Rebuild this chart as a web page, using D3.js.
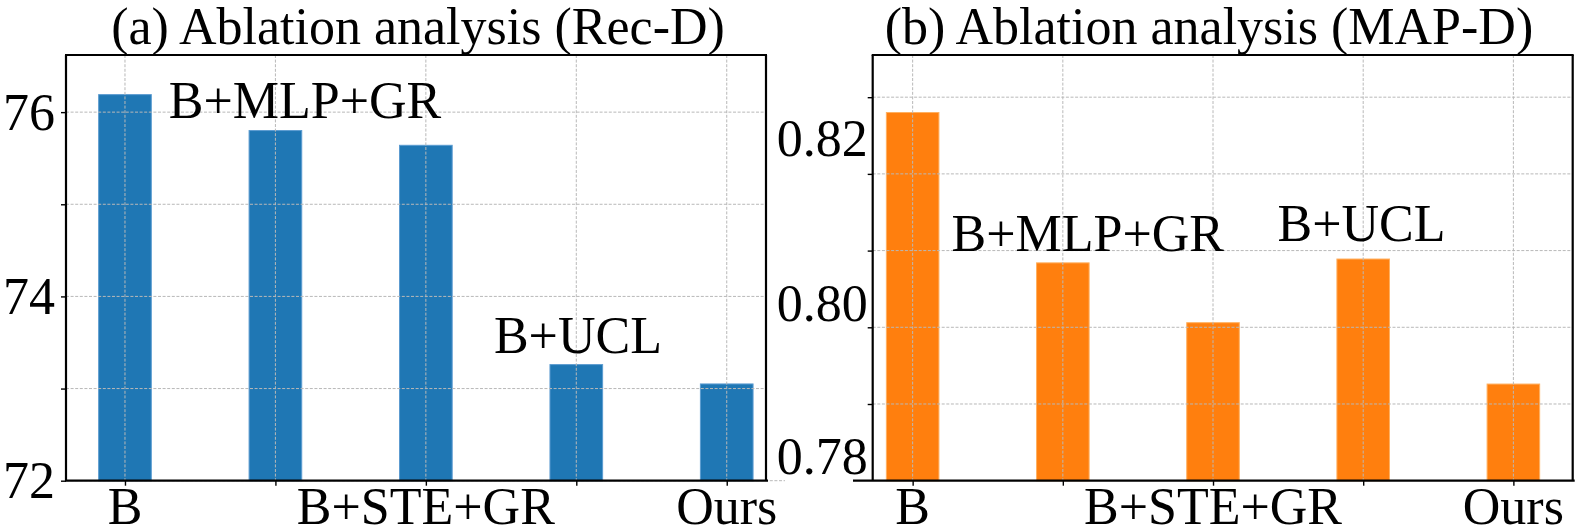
<!DOCTYPE html>
<html><head><meta charset="utf-8">
<script src="https://cdn.jsdelivr.net/npm/d3@7"></script>
<style>html,body{margin:0;padding:0;background:#fff;}svg{display:block;font-family:"Liberation Serif","Times New Roman",serif;}</style>
</head><body><svg id="c" width="1578" height="526"></svg>
<script>
// ---- data ----
const categories = ["B", "B+MLP+GR", "B+STE+GR", "B+UCL", "Ours"];
const xTickLabels = ["B", "", "B+STE+GR", "", "Ours"];
const recD = [76.19, 75.80, 75.64, 73.26, 73.05];
const mapD = [0.8180, 0.7984, 0.7906, 0.7989, 0.7826];
const recTicks = [72, 73, 74, 75, 76];
const recTickLabels = ["72", "", "74", "", "76"];
const mapTicks = [0.78, 0.79, 0.80, 0.81, 0.82];
const mapTickLabels = ["0.78", "", "0.80", "", "0.82"];
const titles = ["(a) Ablation analysis (Rec-D)", "(b) Ablation analysis (MAP-D)"];
const recNotes = [{text: "B+MLP+GR", x: 1.197, y: 75.94}, {text: "B+UCL", x: 3.011, y: 73.383}];
const mapNotes = [{text: "B+MLP+GR", x: 1.166, y: 0.7999}, {text: "B+UCL", x: 2.989, y: 0.8012}];

// ---- layout ----
const svg = d3.select("#c");
svg.append("rect").attr("width", 1578).attr("height", 526).attr("fill", "#fff");
const FS = 52;

function panel(o) {
  const g = svg.append("g");
  const x = d3.scaleLinear().domain(o.xDomain).range([o.left, o.right]);
  const y = d3.scaleLinear().domain(o.yDomain).range([o.bottom, o.top]);
  const bw = x(0.35) - x(0);
  // bars
  g.selectAll("rect.bar").data(o.values).join("rect")
    .attr("x", (d, i) => x(i) - bw / 2).attr("width", bw)
    .attr("y", d => y(d)).attr("height", d => y(o.yDomain[0]) - y(d))
    .attr("fill", o.color).attr("stroke", o.edge).attr("stroke-width", 1);
  // grid
  const grid = g.append("g").attr("stroke", "#b8b8b8").attr("stroke-width", 1).attr("stroke-dasharray", "3,1.6");
  grid.selectAll("line.h").data(o.ticks).join("line")
    .attr("x1", o.left).attr("x2", (d, i) => (o.extendFirstGrid && i === 0) ? o.right + 19 : o.right)
    .attr("y1", d => y(d)).attr("y2", d => y(d));
  grid.selectAll("line.v").data(categories).join("line")
    .attr("x1", (d, i) => x(i)).attr("x2", (d, i) => x(i))
    .attr("y1", o.top).attr("y2", o.bottom);
  // y axis ticks (custom: labels placed as in reference)
  const ya = d3.axisLeft(y).tickValues(o.ticks).tickSize(5).tickFormat("");
  const yg = g.append("g").attr("transform", `translate(${o.left},0)`).call(ya);
  yg.select(".domain").remove();
  yg.selectAll("line").attr("stroke", "#000").attr("stroke-width", 1.4);
  g.selectAll("text.yl").data(o.ticks).join("text")
    .attr("x", o.left - o.labelGap).attr("y", (d, i) => y(d) + o.labelShift[i])
    .attr("dy", "0.34em").attr("text-anchor", "end").attr("font-size", FS)
    .text((d, i) => o.tickLabels[i]);
  // x axis
  const xa = d3.axisBottom(x).tickValues(d3.range(categories.length)).tickSize(5).tickFormat("");
  const xg = g.append("g").attr("transform", `translate(0,${o.bottom})`).call(xa);
  xg.select(".domain").remove();
  xg.selectAll("line").attr("stroke", "#000").attr("stroke-width", 1.4);
  g.selectAll("text.xl").data(xTickLabels).join("text")
    .attr("x", (d, i) => x(i)).attr("y", 524).attr("text-anchor", "middle")
    .attr("font-size", FS).text(d => d);
  // spines
  const sp = g.append("g").attr("stroke", "#000").attr("stroke-width", 2.2).attr("fill", "none");
  sp.append("line").attr("x1", o.left).attr("x2", o.left).attr("y1", o.top).attr("y2", o.bottom);
  sp.append("line").attr("x1", o.right).attr("x2", o.right).attr("y1", o.top).attr("y2", o.bottom);
  sp.append("line").attr("x1", o.left - 1).attr("x2", o.right + 1).attr("y1", o.top).attr("y2", o.top);
  sp.append("line").attr("x1", o.bottomStart).attr("x2", o.right + 2).attr("y1", o.bottom).attr("y2", o.bottom);
  // annotations
  g.selectAll("text.note").data(o.notes).join("text")
    .attr("x", d => x(d.x)).attr("y", d => y(d.y)).attr("text-anchor", "middle")
    .attr("font-size", FS).text(d => d.text);
  // title
  g.append("text").attr("x", o.titleX).attr("y", 44).attr("text-anchor", "middle")
    .attr("font-size", FS).text(o.title);
}

panel({
  left: 66, right: 766, top: 55, bottom: 480.7,
  xDomain: [-0.392, 4.261], yDomain: [72, 76.62],
  values: recD, ticks: recTicks, tickLabels: recTickLabels,
  labelGap: 11, labelShift: [0, 0, 0, 0, 0],
  color: "#1f77b4", edge: "#5b9bd0", notes: recNotes,
  title: titles[0], titleX: 418, bottomStart: 65, extendFirstGrid: true
});
panel({
  left: 872.7, right: 1572.7, top: 55, bottom: 480.7,
  xDomain: [-0.266, 4.395], yDomain: [0.77, 0.8255],
  values: mapD, ticks: mapTicks, tickLabels: mapTickLabels,
  labelGap: 5, labelShift: [52.5, 0, 52.3, 0, 41],
  color: "#ff7f0e", edge: "#ffb060", notes: mapNotes,
  title: titles[1], titleX: 1209, bottomStart: 853, extendFirstGrid: false
});
</script></body></html>
